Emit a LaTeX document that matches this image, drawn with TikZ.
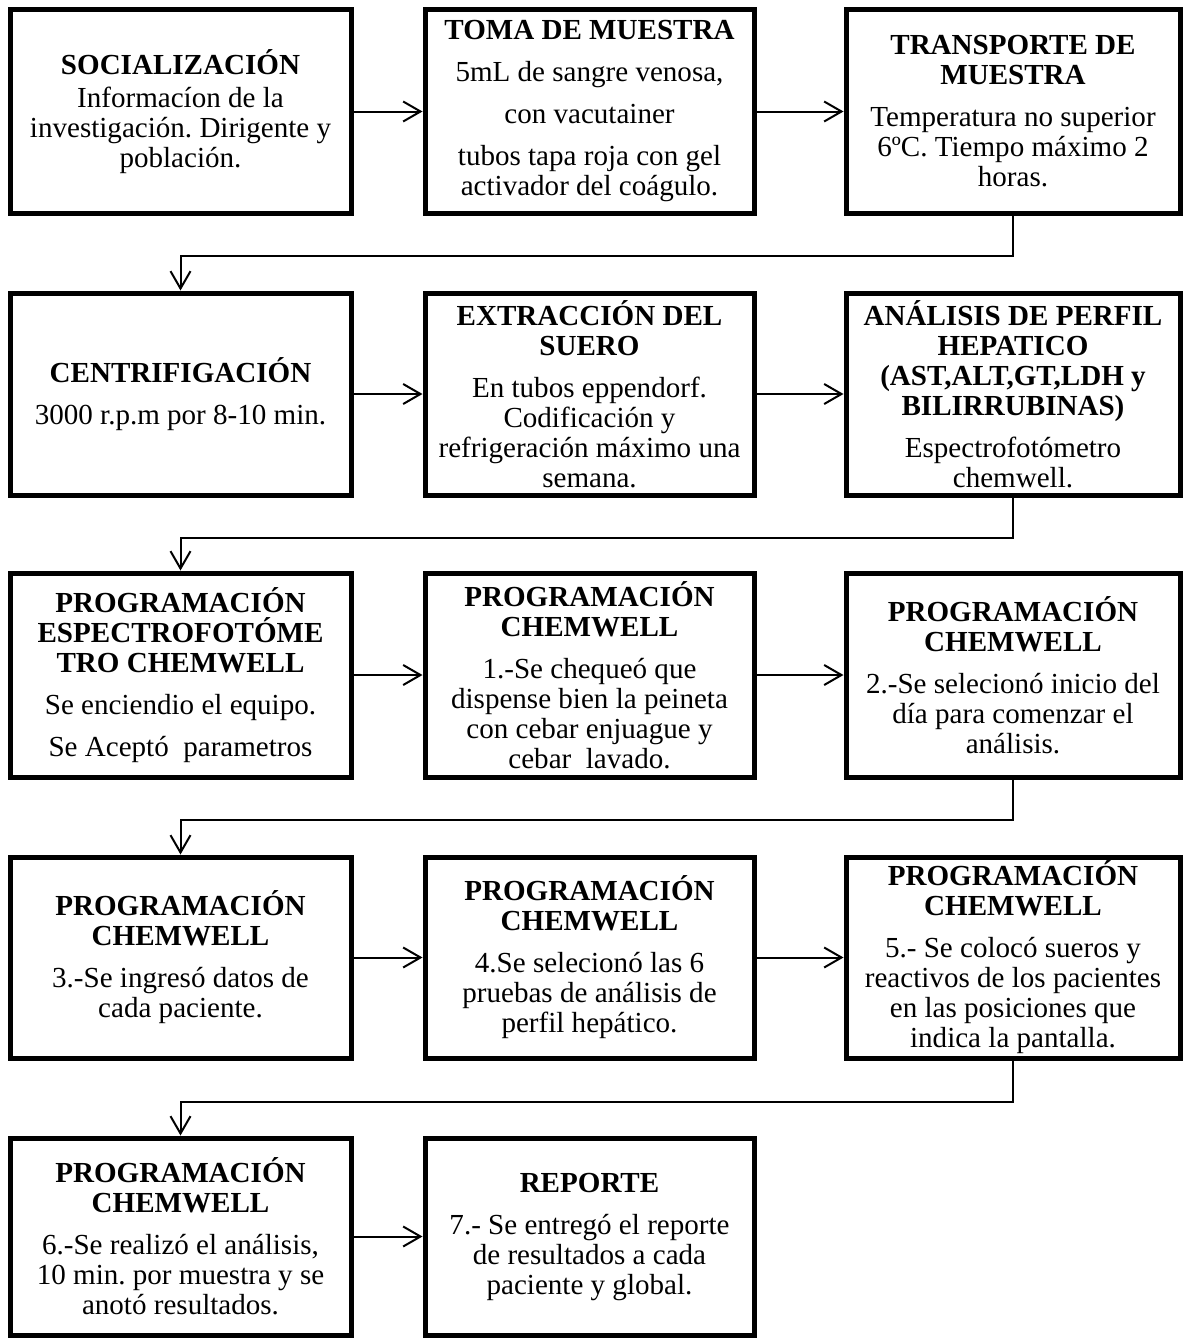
\documentclass[tikz,border=0pt]{standalone}
\usepackage{fontspec}
\setmainfont{Liberation Serif}
\frenchspacing
\usetikzlibrary{arrows.meta}
\tikzset{
  box/.style={draw, line width=3.75pt, align=center, inner sep=0pt,
    font=\fontsize{21.8}{22.5}\selectfont\frenchspacing},
  wa/.style={minimum width=255.75pt},
  wb/.style={minimum width=246.75pt},
  wc/.style={minimum width=250.5pt},
  hh/.style={minimum height=#1*0.75pt},
  conn/.style={line width=1.5pt, -{Straight Barb[length=13pt,width=15pt]}}
}
\begin{document}
\begin{tikzpicture}[x=0.75pt,y=-0.75pt]
\useasboundingbox (0,0) rectangle (1185,1338);
% row 1
\node[box,wa,hh=203] (r1a) at (180.5,111.5) {\textbf{SOCIALIZACIÓN}\\[2pt] Informacíon de la\\ investigación. Dirigente y\\ población.};
\node[box,wb,hh=203] (r1b) at (589.5,111.5) {\textbf{TOMA DE MUESTRA}\\[9pt] 5mL de sangre venosa,\\[9pt] con vacutainer\\[9pt] tubos tapa roja con gel\\ activador del coágulo.};
\node[box,wc,hh=203] (r1c) at (1013,111.5) {\textbf{TRANSPORTE DE}\\ \textbf{MUESTRA}\\[9pt] Temperatura no superior\\ 6ºC. Tiempo máximo 2\\ horas.};
% row 2
\node[box,wa,hh=202] (r2a) at (180.5,394) {\textbf{CENTRIFIGACIÓN}\\[9pt] 3000 r.p.m por 8-10 min.};
\node[box,wb,hh=202] (r2b) at (589.5,394) {\textbf{EXTRACCIÓN DEL}\\ \textbf{SUERO}\\[9pt] En tubos eppendorf.\\ Codificación y\\ refrigeración máximo una\\ semana.};
\node[box,wc,hh=202] (r2c) at (1013,394) {\textbf{ANÁLISIS DE PERFIL}\\ \textbf{HEPATICO}\\ \textbf{(AST,ALT,GT,LDH y}\\ \textbf{BILIRRUBINAS)}\\[9pt] Espectrofotómetro\\ chemwell.};
% row 3
\node[box,wa,hh=204] (r3a) at (180.5,675) {\textbf{PROGRAMACIÓN}\\ \textbf{ESPECTROFOTÓME}\\ \textbf{TRO CHEMWELL}\\[9pt] Se enciendio el equipo.\\[9pt] Se Aceptó\ \ parametros};
\node[box,wb,hh=204] (r3b) at (589.5,675) {\textbf{PROGRAMACIÓN}\\ \textbf{CHEMWELL}\\[9pt] 1.-Se chequeó que\\ dispense bien la peineta\\ con cebar enjuague y\\ cebar\ \ lavado.};
\node[box,wc,hh=204] (r3c) at (1013,675) {\textbf{PROGRAMACIÓN}\\ \textbf{CHEMWELL}\\[9pt] 2.-Se selecionó inicio del\\ día para comenzar el\\ análisis.};
% row 4
\node[box,wa,hh=201] (r4a) at (180.5,957.5) {\textbf{PROGRAMACIÓN}\\ \textbf{CHEMWELL}\\[9pt] 3.-Se ingresó datos de\\ cada paciente.};
\node[box,wb,hh=201] (r4b) at (589.5,957.5) {\textbf{PROGRAMACIÓN}\\ \textbf{CHEMWELL}\\[9pt] 4.Se selecionó las 6\\ pruebas de análisis de\\ perfil hepático.};
\node[box,wc,hh=201] (r4c) at (1013,957.5) {\textbf{PROGRAMACIÓN}\\ \textbf{CHEMWELL}\\[9pt] 5.- Se colocó sueros y\\ reactivos de los pacientes\\ en las posiciones que\\ indica la pantalla.};
% row 5
\node[box,wa,hh=197] (r5a) at (180.5,1236.5) {\textbf{PROGRAMACIÓN}\\ \textbf{CHEMWELL}\\[9pt] 6.-Se realizó el análisis,\\ 10 min. por muestra y se\\ anotó resultados.};
\node[box,wb,hh=197] (r5b) at (589.5,1236.5) {\textbf{REPORTE}\\[9pt] 7.- Se entregó el reporte\\ de resultados a cada\\ paciente y global.};
% horizontal connectors
\draw[conn] (r1a.east) -- (r1b.west);
\draw[conn] (r1b.east) -- (r1c.west);
\draw[conn] (r2a.east) -- (r2b.west);
\draw[conn] (r2b.east) -- (r2c.west);
\draw[conn] (r3a.east) -- (r3b.west);
\draw[conn] (r3b.east) -- (r3c.west);
\draw[conn] (r4a.east) -- (r4b.west);
\draw[conn] (r4b.east) -- (r4c.west);
\draw[conn] (r5a.east) -- (r5b.west);
% row-to-row connectors
\draw[conn] (r1c.south) -- ++(0,40) -| (r2a.north);
\draw[conn] (r2c.south) -- ++(0,40) -| (r3a.north);
\draw[conn] (r3c.south) -- ++(0,40) -| (r4a.north);
\draw[conn] (r4c.south) -- ++(0,41) -| (r5a.north);
\end{tikzpicture}
\end{document}
